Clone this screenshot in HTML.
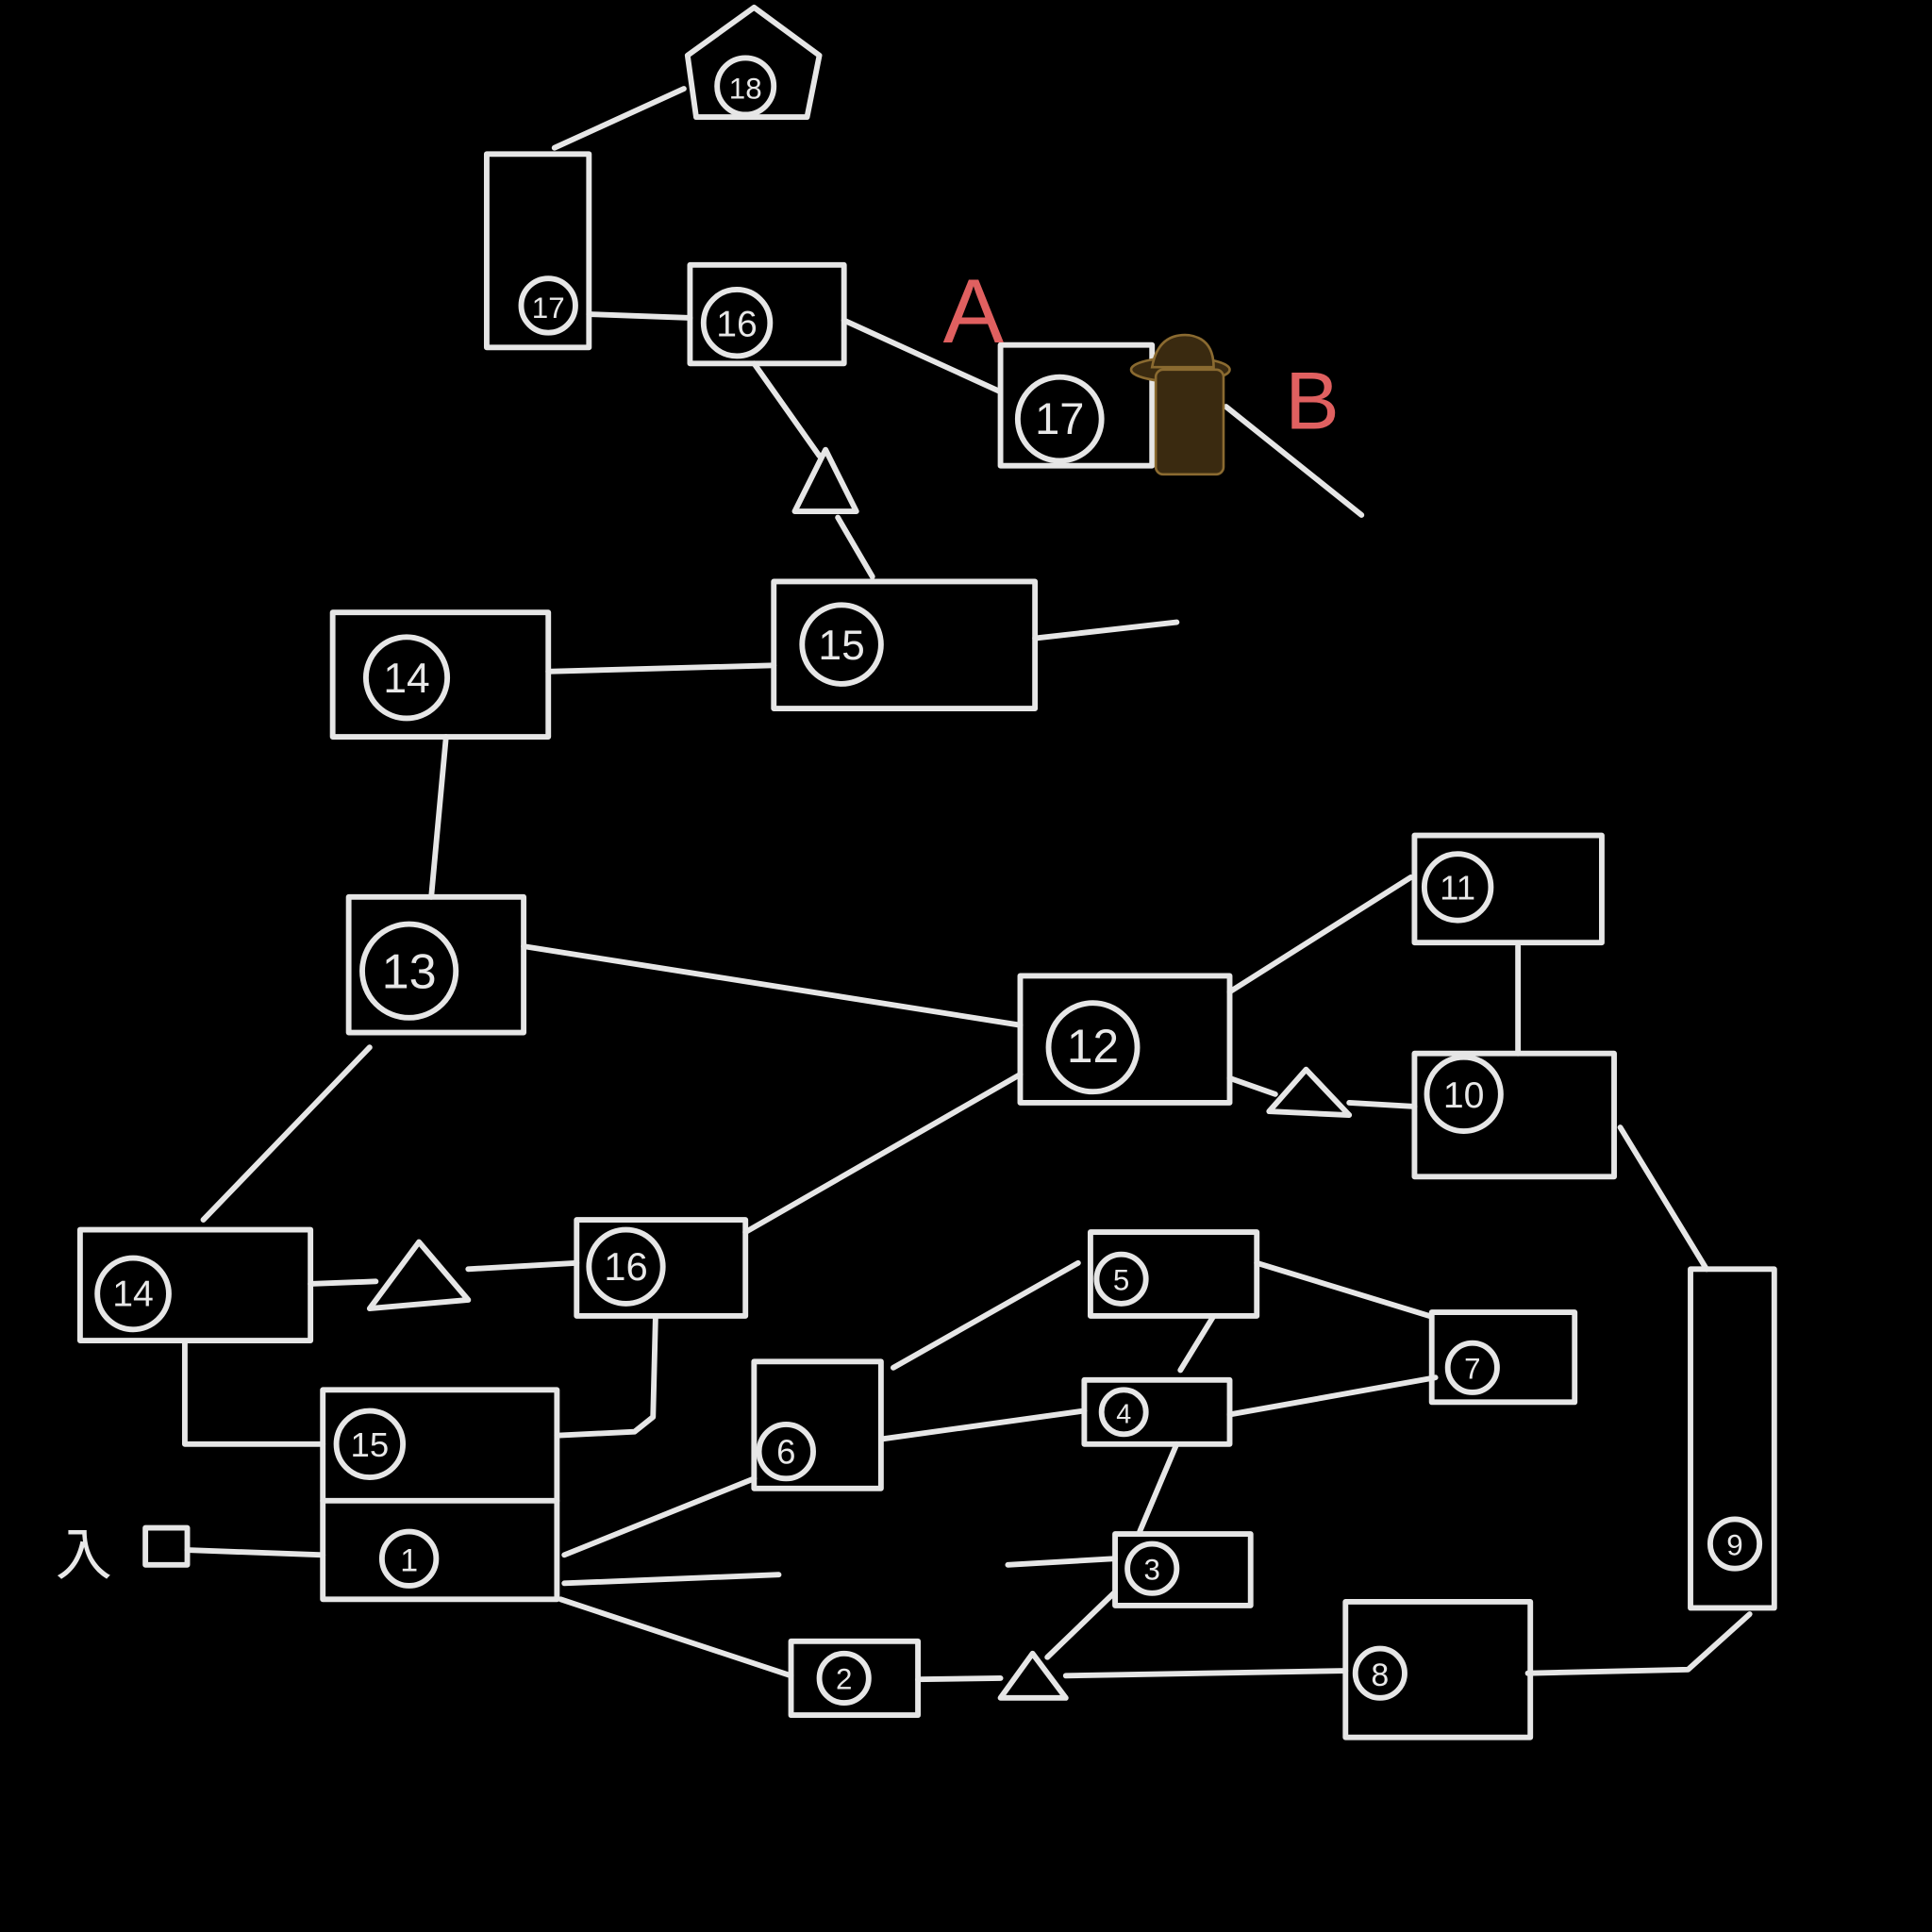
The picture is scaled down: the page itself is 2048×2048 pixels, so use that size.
<!DOCTYPE html>
<html><head><meta charset="utf-8"><style>
html,body{margin:0;padding:0;background:#000;width:2048px;height:2048px;overflow:hidden}
svg{display:block}
text{font-family:"Liberation Sans","Noto Sans CJK JP",sans-serif;fill:#e8e8e8}
</style></head><body>
<svg width="2048" height="2048" viewBox="0 0 1568 1568" xmlns="http://www.w3.org/2000/svg">
<rect width="1568" height="1568" fill="#000"/>
<g stroke="#e6e6e6" stroke-width="4.5" fill="none" stroke-linecap="round" stroke-linejoin="round">
<!-- pentagon 18 -->
<polygon points="558,45 612,6 665,45 655,95 565,95"/>
<line x1="450" y1="120" x2="555" y2="72"/>
<!-- 17 tall -->
<rect x="395" y="125" width="83" height="157"/>
<line x1="478" y1="255" x2="560" y2="258"/>
<!-- 16 -->
<rect x="560" y="215" width="125" height="80"/>
<line x1="685" y1="260" x2="812" y2="318"/>
<!-- 17b -->
<rect x="812" y="280" width="123" height="98"/>
<line x1="995" y1="330" x2="1105" y2="418"/>
<!-- 16 to 15 via triangle -->
<line x1="612" y1="295" x2="665" y2="370"/>
<polygon points="645,415 670,365 695,415"/>
<line x1="680" y1="420" x2="708" y2="468"/>
<!-- 15 -->
<rect x="628" y="472" width="212" height="103"/>
<line x1="840" y1="518" x2="955" y2="505"/>
<!-- 14 -->
<rect x="270" y="497" width="175" height="101"/>
<line x1="445" y1="545" x2="628" y2="540"/>
<line x1="362" y1="598" x2="350" y2="728"/>
<!-- 13 -->
<rect x="283" y="728" width="142" height="110"/>
<line x1="425" y1="768" x2="828" y2="832"/>
<!-- 12 -->
<rect x="828" y="792" width="170" height="103"/>
<line x1="998" y1="805" x2="1145" y2="712"/>
<!-- 11 -->
<rect x="1148" y="678" width="152" height="87"/>
<line x1="1232" y1="768" x2="1232" y2="855"/>
<!-- 10 -->
<rect x="1148" y="855" width="162" height="100"/>
<line x1="998" y1="875" x2="1035" y2="888"/>
<polygon points="1030,902 1060,868 1095,905"/>
<line x1="1095" y1="895" x2="1148" y2="898"/>
<line x1="1315" y1="915" x2="1385" y2="1030"/>
<!-- 9 -->
<rect x="1372" y="1030" width="68" height="275"/>
<polyline points="1420,1310 1370,1355 1240,1358"/>
<!-- 8 -->
<rect x="1092" y="1300" width="150" height="110"/>
<line x1="865" y1="1360" x2="1092" y2="1356"/>
<polygon points="812,1378 838,1342 865,1378"/>
<line x1="745" y1="1363" x2="812" y2="1362"/>
<line x1="850" y1="1345" x2="905" y2="1292"/>
<!-- 2 -->
<rect x="642" y="1332" width="103" height="60"/>
<line x1="455" y1="1298" x2="642" y2="1360"/>
<!-- 3 -->
<rect x="905" y="1245" width="110" height="58"/>
<line x1="818" y1="1270" x2="905" y2="1265"/>
<line x1="925" y1="1243" x2="955" y2="1172"/>
<!-- 4 -->
<rect x="880" y="1120" width="118" height="52"/>
<line x1="715" y1="1168" x2="880" y2="1145"/>
<line x1="998" y1="1148" x2="1165" y2="1118"/>
<!-- 7 -->
<rect x="1162" y="1065" width="116" height="73"/>
<line x1="958" y1="1112" x2="985" y2="1068"/>
<!-- 5 -->
<rect x="885" y="1000" width="135" height="68"/>
<line x1="1020" y1="1025" x2="1160" y2="1068"/>
<line x1="725" y1="1110" x2="875" y2="1025"/>
<!-- 6 -->
<rect x="612" y="1105" width="103" height="103"/>
<line x1="458" y1="1262" x2="612" y2="1200"/>
<line x1="458" y1="1285" x2="632" y2="1278"/>
<!-- 15/1 -->
<rect x="262" y="1128" width="190" height="170"/>
<line x1="262" y1="1218" x2="452" y2="1218"/>
<!-- entrance -->
<rect x="118" y="1240" width="34" height="30"/>
<line x1="152" y1="1258" x2="262" y2="1262"/>
<!-- 14b -->
<rect x="65" y="998" width="187" height="90"/>
<polyline points="150,1090 150,1172 262,1172"/>
<line x1="252" y1="1042" x2="305" y2="1040"/>
<polygon points="300,1062 340,1008 380,1055"/>
<line x1="380" y1="1030" x2="468" y2="1025"/>
<!-- 16b -->
<rect x="468" y="990" width="137" height="78"/>
<polyline points="532,1070 530,1150 515,1162 452,1165"/>
<line x1="605" y1="1000" x2="828" y2="872"/>
<line x1="165" y1="990" x2="300" y2="850"/>
<!-- circles -->
<circle cx="605" cy="70" r="23"/>
<circle cx="445" cy="248" r="22"/>
<circle cx="598" cy="262" r="27"/>
<circle cx="860" cy="340" r="34"/>
<circle cx="683" cy="523" r="32"/>
<circle cx="330" cy="550" r="33"/>
<circle cx="332" cy="788" r="38"/>
<circle cx="887" cy="850" r="36"/>
<circle cx="1183" cy="720" r="27"/>
<circle cx="1188" cy="888" r="30"/>
<circle cx="1408" cy="1253" r="20"/>
<circle cx="1120" cy="1358" r="20"/>
<circle cx="685" cy="1362" r="20"/>
<circle cx="935" cy="1273" r="20"/>
<circle cx="912" cy="1146" r="18"/>
<circle cx="1195" cy="1110" r="20"/>
<circle cx="910" cy="1038" r="20"/>
<circle cx="638" cy="1178" r="22"/>
<circle cx="300" cy="1172" r="27"/>
<circle cx="332" cy="1265" r="22"/>
<circle cx="108" cy="1050" r="29"/>
<circle cx="508" cy="1028" r="30"/>
</g>
<g text-anchor="middle" font-size="28">
<text x="605" y="80" font-size="24">18</text>
<text x="445" y="258" font-size="24">17</text>
<text x="598" y="273" font-size="30">16</text>
<text x="860" y="352" font-size="36">17</text>
<text x="683" y="535" font-size="34">15</text>
<text x="330" y="562" font-size="34">14</text>
<text x="332" y="802" font-size="40">13</text>
<text x="887" y="862" font-size="38">12</text>
<text x="1183" y="730" font-size="28">11</text>
<text x="1188" y="899" font-size="30">10</text>
<text x="1408" y="1262" font-size="24">9</text>
<text x="1120" y="1368" font-size="26">8</text>
<text x="685" y="1371" font-size="24">2</text>
<text x="935" y="1282" font-size="24">3</text>
<text x="912" y="1155" font-size="22">4</text>
<text x="1195" y="1119" font-size="24">7</text>
<text x="910" y="1047" font-size="24">5</text>
<text x="638" y="1188" font-size="28">6</text>
<text x="300" y="1182" font-size="28">15</text>
<text x="332" y="1275" font-size="26">1</text>
<text x="108" y="1060" font-size="30">14</text>
<text x="508" y="1039" font-size="32">16</text>
</g>
<text x="45" y="1278" font-size="46" style="fill:#e8e8e8">入</text>
<text x="790" y="278" font-size="74" text-anchor="middle" style="fill:#e06060">A</text>
<text x="1065" y="348" font-size="66" text-anchor="middle" style="fill:#e06060">B</text>
<!-- character -->
<g>
<ellipse cx="958" cy="300" rx="40" ry="10" fill="#3a2a10" stroke="#8a6a30" stroke-width="2"/>
<path d="M935,298 Q940,270 965,272 Q985,275 985,298 Z" fill="#3a2a10" stroke="#8a6a30" stroke-width="2"/>
<rect x="938" y="300" width="55" height="85" rx="6" fill="#3a2a10" stroke="#8a6a30" stroke-width="2"/>
</g>
</svg>
</body></html>
